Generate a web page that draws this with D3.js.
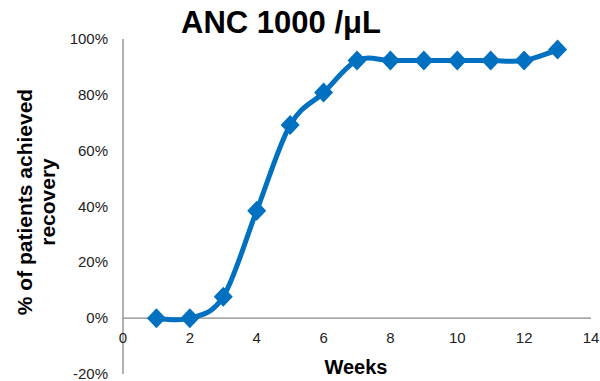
<!DOCTYPE html>
<html>
<head>
<meta charset="utf-8">
<script src="https://cdn.jsdelivr.net/npm/d3@7"></script>
<style>
  body { margin: 0; background: #fff; }
  text { font-family: "Liberation Sans", Arial, sans-serif; }
</style>
</head>
<body>
<svg id="chart" width="600" height="381"></svg>
<script>
// data (26 patients -> steps of ~3.85%)
var weeks = [1, 2, 3, 4, 5, 6, 7, 8, 9, 10, 11, 12, 13];
var recovered = [0, 0, 7.7, 38.5, 69.2, 80.8, 92.3, 92.3, 92.3, 92.3, 92.3, 92.3, 96.2];
var xTicks = [0, 2, 4, 6, 8, 10, 12, 14];
var yTicks = [-20, 0, 20, 40, 60, 80, 100];

var svg = d3.select("#chart");
var blue = "#0070C0", grey = "#878787";

var x = d3.scaleLinear().domain([0, 14]).range([123, 591]);
var y = d3.scaleLinear().domain([-20, 100]).range([374, 39]);

// y axis line + labels (no tick marks)
svg.append("line")
  .attr("x1", x(0)).attr("x2", x(0))
  .attr("y1", y(-20)).attr("y2", y(100))
  .attr("stroke", grey).attr("stroke-width", 1.3);

svg.selectAll(".ylab").data(yTicks).enter()
  .append("text")
  .attr("x", 108)
  .attr("y", function(d){ return y(d) + 5; })
  .attr("text-anchor", "end")
  .attr("font-size", 15)
  .attr("fill", "#222")
  .text(function(d){ return d + "%"; });

// x axis at 0%
svg.append("line")
  .attr("x1", x(0)).attr("x2", x(14))
  .attr("y1", y(0)).attr("y2", y(0))
  .attr("stroke", grey).attr("stroke-width", 1.3);

svg.selectAll(".xlab").data(xTicks).enter()
  .append("text")
  .attr("x", function(d){ return x(d); })
  .attr("y", 343)
  .attr("text-anchor", "middle")
  .attr("font-size", 15)
  .attr("fill", "#222")
  .text(function(d){ return d; });

// smoothed line like Excel
var pts = weeks.map(function(w, i){ return [w, recovered[i]]; });
var line = d3.line()
  .x(function(d){ return x(d[0]); })
  .y(function(d){ return y(d[1]); })
  .curve(d3.curveCatmullRom.alpha(0));

svg.append("path")
  .datum(pts)
  .attr("d", line)
  .attr("fill", "none")
  .attr("stroke", blue)
  .attr("stroke-width", 5);

svg.selectAll(".mk").data(pts).enter()
  .append("path")
  .attr("transform", function(d){ return "translate(" + x(d[0]) + "," + y(d[1]) + ")"; })
  .attr("d", "M0,-10L9.5,0L0,10L-9.5,0Z")
  .attr("fill", blue);

// titles
svg.append("text")
  .attr("x", 281).attr("y", 33)
  .attr("text-anchor", "middle")
  .attr("font-size", 31).attr("font-weight", "bold")
  .text("ANC 1000 /μL");

svg.append("text")
  .attr("x", 356).attr("y", 374)
  .attr("text-anchor", "middle")
  .attr("font-size", 20).attr("font-weight", "bold")
  .text("Weeks");

var yl = svg.append("text")
  .attr("transform", "translate(32,202) rotate(-90)")
  .attr("text-anchor", "middle")
  .attr("font-size", 21).attr("font-weight", "bold");
yl.append("tspan").attr("x", 0).attr("y", 0).text("% of patients achieved");
yl.append("tspan").attr("x", 0).attr("y", 23).text("recovery");
</script>
</body>
</html>
